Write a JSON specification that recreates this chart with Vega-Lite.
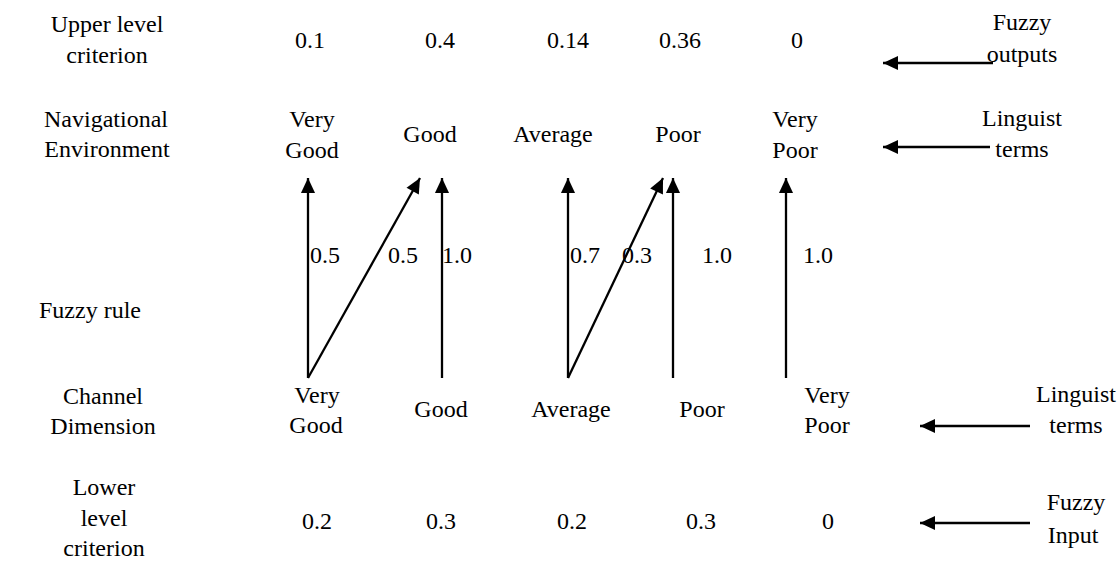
{
  "$schema": "https://vega.github.io/schema/vega-lite/v6.json",
  "width": 1119,
  "height": 562,
  "padding": 0,
  "autosize": "none",
  "background": "white",
  "config": {"view": {"stroke": null}},
  "datasets": {
    "arrows": [
      {"x": 308, "y": 378, "x2": 308, "y2": 178, "angle": 0},
      {"x": 442, "y": 378, "x2": 442, "y2": 178, "angle": 0},
      {"x": 568, "y": 378, "x2": 568, "y2": 178, "angle": 0},
      {"x": 673, "y": 378, "x2": 673, "y2": 178, "angle": 0},
      {"x": 786, "y": 378, "x2": 786, "y2": 178, "angle": 0},
      {"x": 308, "y": 378, "x2": 420, "y2": 178, "angle": 29.25},
      {"x": 568, "y": 378, "x2": 663, "y2": 178, "angle": 25.4},
      {"x": 993, "y": 63, "x2": 883, "y2": 63, "angle": 270},
      {"x": 990, "y": 147, "x2": 883, "y2": 147, "angle": 270},
      {"x": 1030, "y": 426, "x2": 920, "y2": 426, "angle": 270},
      {"x": 1030, "y": 523, "x2": 920, "y2": 523, "angle": 270}
    ],
    "labels": [
      {"x": 107, "y": 32, "text": "Upper level"},
      {"x": 107, "y": 63, "text": "criterion"},
      {"x": 106, "y": 127, "text": "Navigational"},
      {"x": 107, "y": 157, "text": "Environment"},
      {"x": 90, "y": 318, "text": "Fuzzy rule"},
      {"x": 103, "y": 404, "text": "Channel"},
      {"x": 103, "y": 434, "text": "Dimension"},
      {"x": 104, "y": 495, "text": "Lower"},
      {"x": 104, "y": 526, "text": "level"},
      {"x": 104, "y": 556, "text": "criterion"},
      {"x": 310, "y": 48, "text": "0.1"},
      {"x": 440, "y": 48, "text": "0.4"},
      {"x": 568, "y": 48, "text": "0.14"},
      {"x": 680, "y": 48, "text": "0.36"},
      {"x": 797, "y": 48, "text": "0"},
      {"x": 312, "y": 127, "text": "Very"},
      {"x": 312, "y": 158, "text": "Good"},
      {"x": 430, "y": 142, "text": "Good"},
      {"x": 553, "y": 142, "text": "Average"},
      {"x": 678, "y": 142, "text": "Poor"},
      {"x": 795, "y": 127, "text": "Very"},
      {"x": 795, "y": 158, "text": "Poor"},
      {"x": 325, "y": 263, "text": "0.5"},
      {"x": 403, "y": 263, "text": "0.5"},
      {"x": 457, "y": 263, "text": "1.0"},
      {"x": 585, "y": 263, "text": "0.7"},
      {"x": 637, "y": 263, "text": "0.3"},
      {"x": 717, "y": 263, "text": "1.0"},
      {"x": 818, "y": 263, "text": "1.0"},
      {"x": 317, "y": 403, "text": "Very"},
      {"x": 316, "y": 433, "text": "Good"},
      {"x": 441, "y": 417, "text": "Good"},
      {"x": 571, "y": 417, "text": "Average"},
      {"x": 702, "y": 417, "text": "Poor"},
      {"x": 827, "y": 403, "text": "Very"},
      {"x": 827, "y": 433, "text": "Poor"},
      {"x": 317, "y": 529, "text": "0.2"},
      {"x": 441, "y": 529, "text": "0.3"},
      {"x": 572, "y": 529, "text": "0.2"},
      {"x": 701, "y": 529, "text": "0.3"},
      {"x": 828, "y": 529, "text": "0"},
      {"x": 1022, "y": 30, "text": "Fuzzy"},
      {"x": 1022, "y": 62, "text": "outputs"},
      {"x": 1022, "y": 126, "text": "Linguist"},
      {"x": 1022, "y": 157, "text": "terms"},
      {"x": 1076, "y": 402, "text": "Linguist"},
      {"x": 1076, "y": 433, "text": "terms"},
      {"x": 1076, "y": 510, "text": "Fuzzy"},
      {"x": 1073, "y": 543, "text": "Input"}
    ]
  },
  "layer": [
    {
      "data": {"name": "arrows"},
      "mark": {"type": "rule", "color": "black", "strokeWidth": 2.3},
      "encoding": {
        "x": {"field": "x", "type": "quantitative", "scale": {"domain": [0, 1119], "nice": false, "zero": false}, "axis": null},
        "y": {"field": "y", "type": "quantitative", "scale": {"domain": [0, 562], "nice": false, "zero": false, "reverse": true}, "axis": null},
        "x2": {"field": "x2"},
        "y2": {"field": "y2"}
      }
    },
    {
      "data": {"name": "arrows"},
      "mark": {"type": "point", "shape": "M0,0L-0.47,1L0.47,1Z", "size": 900, "filled": true, "color": "black", "opacity": 1, "strokeWidth": 0},
      "encoding": {
        "x": {"field": "x2", "type": "quantitative", "scale": {"domain": [0, 1119], "nice": false, "zero": false}, "axis": null},
        "y": {"field": "y2", "type": "quantitative", "scale": {"domain": [0, 562], "nice": false, "zero": false, "reverse": true}, "axis": null},
        "angle": {"field": "angle", "type": "quantitative", "scale": null}
      }
    },
    {
      "data": {"name": "labels"},
      "mark": {"type": "text", "font": "serif", "fontSize": 24, "color": "black", "align": "center", "baseline": "alphabetic"},
      "encoding": {
        "x": {"field": "x", "type": "quantitative", "scale": {"domain": [0, 1119], "nice": false, "zero": false}, "axis": null},
        "y": {"field": "y", "type": "quantitative", "scale": {"domain": [0, 562], "nice": false, "zero": false, "reverse": true}, "axis": null},
        "text": {"field": "text", "type": "nominal"}
      }
    }
  ]
}
